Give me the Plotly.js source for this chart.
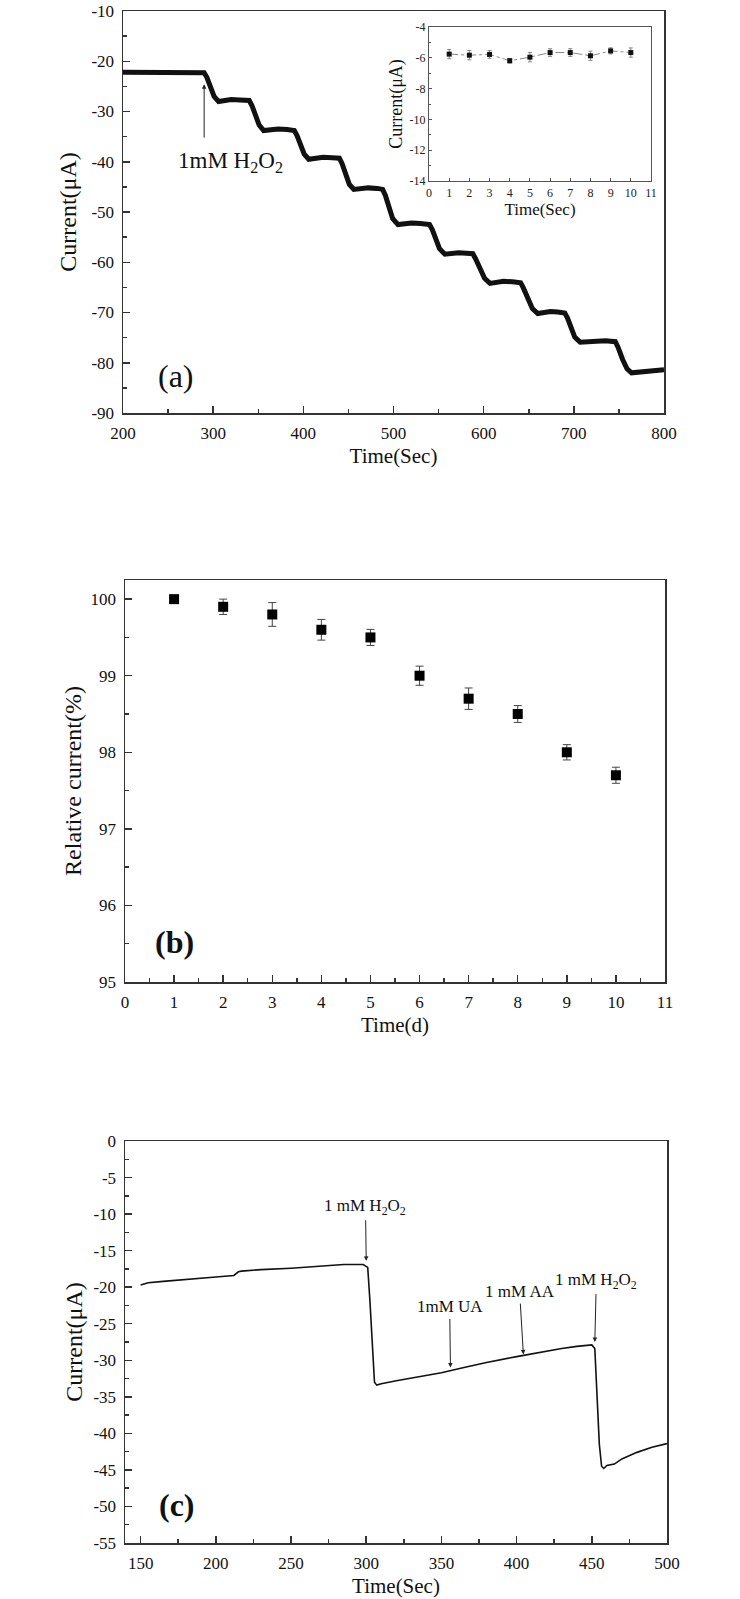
<!DOCTYPE html>
<html>
<head>
<meta charset="utf-8">
<script src="https://cdn.plot.ly/plotly-3.0.1.min.js"></script>
<style>html,body{margin:0;padding:0;background:#fff;}#chart{width:740px;height:1599px;}</style>
</head>
<body>
<div id="chart"></div>
<script>
// ---------- Panel (a): amperometric staircase ----------
const timeA = [200, 230, 260, 290, 293, 297, 301, 306, 312, 320, 330, 340, 343, 347, 351, 356, 362, 372, 382, 390, 393, 397, 401, 406, 412, 422, 432, 440, 443, 447, 451, 456, 462, 472, 482, 488, 491, 495, 499, 505, 511, 520, 530, 540, 543, 547, 551, 557, 563, 572, 581, 588, 591, 596, 601, 607, 613, 622, 632, 641, 644, 649, 654, 660, 666, 674, 682, 690, 693, 697, 701, 707, 713, 722, 735, 746, 749, 754, 759, 764, 770, 780, 790, 800];
const currentA = [-22.2, -22.3, -22.2, -22.3, -23.2, -25.2, -27.0, -28.0, -27.9, -27.6, -27.7, -27.8, -28.8, -30.8, -32.7, -33.8, -33.7, -33.5, -33.6, -33.8, -34.8, -36.8, -38.5, -39.5, -39.4, -39.1, -39.2, -39.3, -40.4, -42.6, -44.5, -45.5, -45.4, -45.2, -45.3, -45.5, -46.7, -49.2, -51.3, -52.5, -52.4, -52.2, -52.3, -52.5, -53.5, -55.6, -57.3, -58.4, -58.3, -58.1, -58.2, -58.3, -59.3, -61.4, -63.2, -64.2, -64.0, -63.8, -63.9, -64.1, -65.1, -67.3, -69.2, -70.2, -70.0, -69.8, -69.9, -70.1, -71.1, -73.2, -74.9, -75.9, -75.8, -75.6, -75.6, -75.8, -76.9, -79.3, -81.2, -82.0, -81.9, -81.7, -81.6, -81.4];
const xTicksA = ['200', '300', '400', '500', '600', '700', '800'];
const yTicksA = ['-90', '-80', '-70', '-60', '-50', '-40', '-30', '-20', '-10'];

// ---------- Inset ----------
const insetX = [1, 2, 3, 4, 5, 6, 7, 8, 9, 10];
const insetY = [-5.76, -5.83, -5.78, -6.19, -5.96, -5.66, -5.66, -5.87, -5.55, -5.66];
const insetErr = [0.3, 0.3, 0.25, 0.15, 0.3, 0.25, 0.25, 0.3, 0.2, 0.3];
const xTicksInset = ['0', '1', '2', '3', '4', '5', '6', '7', '8', '9', '10', '11'];
const yTicksInset = ['-14', '-12', '-10', '-8', '-6', '-4'];

// ---------- Panel (b): stability ----------
const days = [1, 2, 3, 4, 5, 6, 7, 8, 9, 10];
const relCurrent = [100.0, 99.9, 99.8, 99.6, 99.5, 99.0, 98.7, 98.5, 98.0, 97.7];
const relErr = [0.02, 0.1, 0.155, 0.135, 0.105, 0.125, 0.14, 0.11, 0.1, 0.105];
const xTicksB = ['0', '1', '2', '3', '4', '5', '6', '7', '8', '9', '10', '11'];
const yTicksB = ['95', '96', '97', '98', '99', '100'];

// ---------- Panel (c): interference ----------
const timeC = [150, 155, 165, 180, 200, 212, 215, 217, 230, 250, 270, 285, 298, 301, 302.5, 304, 305.5, 307, 310, 320, 335, 350, 365, 380, 400, 420, 430, 440, 450, 452, 453.5, 455, 456.5, 458, 460, 465, 470, 480, 490, 500];
const currentC = [-19.7, -19.4, -19.2, -18.9, -18.6, -18.4, -17.9, -17.8, -17.6, -17.4, -17.1, -16.9, -16.9, -17.3, -22, -28.5, -33.0, -33.4, -33.2, -32.8, -32.3, -31.7, -31.0, -30.3, -29.5, -28.7, -28.4, -28.1, -27.9, -28.4, -35, -41.5, -44.5, -44.8, -44.4, -44.2, -43.5, -42.6, -41.9, -41.4];
const xTicksC = ['150', '200', '250', '300', '350', '400', '450', '500'];
const yTicksC = ['-55', '-50', '-45', '-40', '-35', '-30', '-25', '-20', '-15', '-10', '-5', '0'];

// injection labels (panel c): text centre and arrow head
const injLabelsC = ['1 mM H<sub>2</sub>O<sub>2</sub>', '1mM UA', '1 mM AA', '1 mM H<sub>2</sub>O<sub>2</sub>'];
const injTextX = [299.5, 355.5, 402, 453];
const injTextY = [-9.0, -22.7, -20.6, -19.1];
const injArrowX = [300, 356, 404.5, 452];
const injArrowHead = [-16.4, -31.0, -29.2, -27.5];

const FONT = 'Liberation Serif, Times New Roman, serif';
const LINE = '#333';

function numVals(labels) { return labels.map(Number); }
function axis(extra) {
  return Object.assign({
    showline: true, mirror: true, linecolor: LINE, linewidth: 1.5,
    ticks: 'inside', ticklen: 7, tickwidth: 1.5, tickcolor: LINE,
    showgrid: false, zeroline: false, fixedrange: true,
    tickfont: {family: FONT, size: 17, color: '#111'},
    ticklabelstandoff: 4, tickmode: 'array'
  }, extra);
}
function minor(d, len) {
  return {dtick: d, ticks: 'inside', ticklen: len || 4, tickwidth: 1.5, tickcolor: LINE, showgrid: false};
}
function ttl(text, size, standoff) {
  return {text: text, font: {family: FONT, size: size, color: '#111'}, standoff: standoff};
}

const traces = [
  {x: timeA, y: currentA, xaxis: 'x', yaxis: 'y', mode: 'lines',
   line: {color: '#111', width: 5}, hoverinfo: 'skip'},
  {x: insetX, y: insetY, xaxis: 'x2', yaxis: 'y2', mode: 'lines+markers',
   line: {color: '#888', width: 1, dash: 'dashdot'},
   marker: {symbol: 'square', size: 5, color: '#111'},
   error_y: {type: 'data', array: insetErr, visible: true, color: '#888', thickness: 1, width: 2}},
  {x: days, y: relCurrent, xaxis: 'x3', yaxis: 'y3', mode: 'markers',
   marker: {symbol: 'square', size: 10, color: '#000'},
   error_y: {type: 'data', array: relErr, visible: true, color: '#444', thickness: 1, width: 4}},
  {x: timeC, y: currentC, xaxis: 'x4', yaxis: 'y4', mode: 'lines',
   line: {color: '#111', width: 1.6}, hoverinfo: 'skip'}
];

const annotations = [
  {xref: 'x', yref: 'y', axref: 'x', ayref: 'y', x: 290, y: -24.6, ax: 290, ay: -35.5,
   text: '', showarrow: true, arrowhead: 2, arrowsize: 0.9, arrowwidth: 1, arrowcolor: '#222'},
  {xref: 'x', yref: 'y', x: 319, y: -40, text: '1mM H<sub>2</sub>O<sub>2</sub>', showarrow: false,
   font: {family: FONT, size: 23, color: '#111'}, xanchor: 'center', yanchor: 'middle'},
  {xref: 'paper', yref: 'paper', x: 176 / 740, y: 1 - 376 / 1599, text: '(a)', showarrow: false,
   font: {family: FONT, size: 32, color: '#111'}, xanchor: 'center', yanchor: 'middle'},
  {xref: 'paper', yref: 'paper', x: 174 / 740, y: 1 - 942 / 1599, text: '<b>(b)</b>', showarrow: false,
   font: {family: FONT, size: 32, color: '#111'}, xanchor: 'center', yanchor: 'middle'},
  {xref: 'paper', yref: 'paper', x: 177 / 740, y: 1 - 1505 / 1599, text: '<b>(c)</b>', showarrow: false,
   font: {family: FONT, size: 32, color: '#111'}, xanchor: 'center', yanchor: 'middle'}
];
for (let i = 0; i < injLabelsC.length; i++) {
  annotations.push({xref: 'x4', yref: 'y4', axref: 'x4', ayref: 'y4',
    x: injArrowX[i], y: injArrowHead[i], ax: injTextX[i], ay: injTextY[i],
    text: injLabelsC[i], font: {family: FONT, size: 17, color: '#111'},
    showarrow: true, arrowhead: 2, arrowsize: 0.9, arrowwidth: 1, arrowcolor: '#222',
    borderpad: 2, standoff: 0});
}

const insetTickFont = {family: FONT, size: 12, color: '#222'};

const layout = {
  width: 740, height: 1599,
  margin: {l: 0, r: 0, t: 0, b: 0},
  paper_bgcolor: '#fff', plot_bgcolor: '#fff',
  showlegend: false,
  font: {family: FONT, color: '#111'},
  xaxis: axis({domain: [123 / 740, 664 / 740], anchor: 'y', range: [200, 800],
    tickvals: numVals(xTicksA), ticktext: xTicksA,
    minor: minor(50), title: ttl('Time(Sec)', 21, 6)}),
  yaxis: axis({domain: [1 - 413 / 1599, 1 - 11 / 1599], anchor: 'x', range: [-90, -10],
    tickvals: numVals(yTicksA), ticktext: yTicksA,
    minor: minor(5), title: ttl('Current(μA)', 24, 8)}),
  xaxis2: axis({domain: [429 / 740, 651 / 740], anchor: 'y2', range: [0, 11],
    tickvals: numVals(xTicksInset), ticktext: xTicksInset,
    linewidth: 1, ticklen: 3, tickwidth: 1, linecolor: '#555', tickcolor: '#555',
    tickfont: insetTickFont, ticklabelstandoff: 1,
    title: ttl('Time(Sec)', 17, 2)}),
  yaxis2: axis({domain: [1 - 181 / 1599, 1 - 27 / 1599], anchor: 'x2', range: [-14, -4],
    tickvals: numVals(yTicksInset), ticktext: yTicksInset,
    linewidth: 1, ticklen: 3, tickwidth: 1, linecolor: '#555', tickcolor: '#555',
    tickfont: insetTickFont, ticklabelstandoff: 0,
    minor: {dtick: 1, ticks: 'inside', ticklen: 2, tickwidth: 1, tickcolor: '#555'},
    title: ttl('Current(μA)', 18, 2)}),
  xaxis3: axis({domain: [125 / 740, 665 / 740], anchor: 'y3', range: [0, 11],
    tickvals: numVals(xTicksB), ticktext: xTicksB,
    minor: minor(0.5), title: ttl('Time(d)', 21, 6)}),
  yaxis3: axis({domain: [1 - 982 / 1599, 1 - 580 / 1599], anchor: 'x3', range: [95, 100.25],
    tickvals: numVals(yTicksB), ticktext: yTicksB,
    minor: minor(0.5), title: ttl('Relative current(%)', 24, 2)}),
  xaxis4: axis({domain: [125 / 740, 667 / 740], anchor: 'y4', range: [139.6, 500],
    tickvals: numVals(xTicksC), ticktext: xTicksC,
    minor: minor(25), title: ttl('Time(Sec)', 21, 6)}),
  yaxis4: axis({domain: [1 - 1543 / 1599, 1 - 1141 / 1599], anchor: 'x4', range: [-55, 0],
    tickvals: numVals(yTicksC), ticktext: yTicksC,
    minor: minor(2.5), title: ttl('Current(μA)', 24, 4)}),
  annotations: annotations
};

Plotly.newPlot('chart', traces, layout, {displayModeBar: false, staticPlot: true});
</script>
</body>
</html>
